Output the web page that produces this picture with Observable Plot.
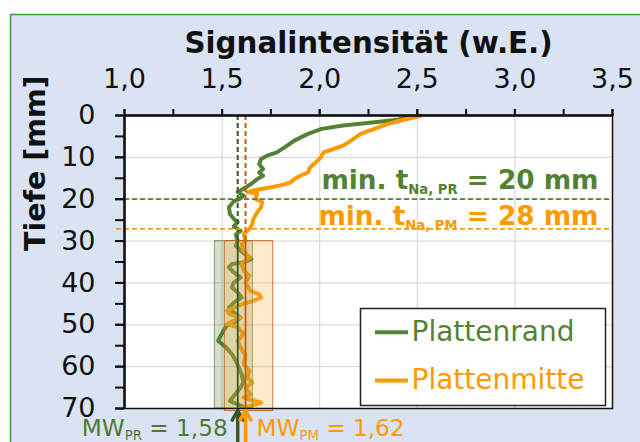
<!DOCTYPE html>
<html><head><meta charset="utf-8">
<script src="https://cdn.jsdelivr.net/npm/d3@7"></script>
<script src="https://cdn.jsdelivr.net/npm/@observablehq/plot@0.6"></script>
<style>html,body{margin:0;padding:0;background:#fff;} svg{display:block}</style>
</head><body><div id="chart"></div>
<script>
// ---- data ----
const depthPR = [0.3,1.0,1.6,2.4,3.2,4.4,6.0,7.6,8.8,9.6,10.4,11.6,12.8,13.6,14.4,15.2,16.3,17.5,18.3,19.1,19.9,20.5,21.9,23.5,24.7,25.5,26.5,27.5,28.5,29.9,31.1,32.3,34.3,35.1,35.5,36.3,37.5,38.7,39.9,41.1,42.3,43.5,44.7,45.9,47.1,48.3,49.5,50.2,52.0,53.8,55.4,57.0,58.6,60.2,61.8,63.8,65.0,67.0,68.2,69.0,69.6];
const valuePR = [2.46,2.40,2.28,2.12,2.01,1.94,1.87,1.82,1.78,1.73,1.70,1.69,1.71,1.69,1.71,1.68,1.65,1.61,1.58,1.61,1.59,1.56,1.535,1.54,1.56,1.58,1.56,1.595,1.57,1.58,1.57,1.595,1.65,1.61,1.55,1.535,1.56,1.595,1.56,1.55,1.58,1.60,1.56,1.535,1.56,1.595,1.56,1.525,1.50,1.48,1.52,1.55,1.57,1.585,1.60,1.61,1.595,1.56,1.54,1.58,1.61];
const depthPM = [0,0.6,1.2,2.0,3.2,4.4,6.0,7.2,8.0,8.8,10.0,11.2,12.4,13.6,14.4,15.2,16.0,16.7,17.3,17.9,18.3,18.7,19.9,20.7,21.9,23.1,24.7,25.9,27.1,28.3,29.9,30.7,32.3,33.9,35.5,37.1,38.3,39.9,41.9,42.7,43.5,43.9,44.7,45.5,46.7,47.5,48.3,49.0,49.8,50.6,52.2,53.8,55.4,57.4,59.4,61.0,62.6,63.8,65.0,66.6,67.4,68.2,68.6,69.4,69.8];
const valuePM = [2.52,2.47,2.415,2.35,2.28,2.21,2.16,2.12,2.07,2.02,2.005,1.98,1.95,1.94,1.90,1.87,1.85,1.80,1.73,1.66,1.63,1.68,1.67,1.705,1.70,1.68,1.66,1.655,1.64,1.61,1.62,1.60,1.61,1.64,1.60,1.61,1.64,1.62,1.645,1.69,1.70,1.68,1.63,1.58,1.525,1.54,1.595,1.56,1.525,1.58,1.61,1.58,1.595,1.62,1.61,1.64,1.63,1.655,1.62,1.645,1.61,1.67,1.70,1.645,1.61];
const seriesNames = ["Plattenrand", "Plattenmitte"];
const meanValues = [1.58, 1.62];            // MW_PR, MW_PM
const meanLabels = ["MW_{PR} = 1,58", "MW_{PM} = 1,62"];
const bandLow = [1.463, 1.514];
const bandHigh = [1.658, 1.762];
const bandDepth = [30, 70];
const minDepthLines = [20, 27.1];
const minDepthLabels = ["min. t_{Na, PR} = 20 mm", "min. t_{Na, PM} = 28 mm"];
const xTicks = [1.0, 1.5, 2.0, 2.5, 3.0, 3.5];
const xMinorTicks = [1.0,1.25,1.5,1.75,2.0,2.25,2.5,2.75,3.0,3.25,3.5];
const yTicks = [0,10,20,30,40,50,60,70];
const yMinorTicks = [0,5,10,15,20,25,30,35,40,45,50,55,60,65,70];
const xTitle = "Signalintensität (w.E.)";
const yTitle = "Tiefe [mm]";

// ---- styles / layout ----
const GREEN = "#548235", DKGREEN = "#375623", ORANGE = "#ff9900", RUST = "#c55a11";
const W = 640, H = 442, mL = 124, mT = 115, mR = 28, mB = 34;
const xDomain = [1, 3.5], yDomain = [0, 70];
const px2x = p => xDomain[0] + (p - mL) / (W - mL - mR) * (xDomain[1] - xDomain[0]);
const px2y = p => yDomain[0] + (p - mT) / (H - mT - mB) * (yDomain[1] - yDomain[0]);
const fmt = d => d3.format(".1f")(d).replace(".", ",");

const pr = depthPR.map((d, i) => ({depth: d, value: valuePR[i]}));
const pm = depthPM.map((d, i) => ({depth: d, value: valuePM[i]}));
const bands = [0, 1].map(i => ({x1: bandLow[i], x2: bandHigh[i], y1: bandDepth[0], y2: bandDepth[1] + (i ? 0.6 : 0)}));

const chart = Plot.plot({
  width: W, height: H,
  marginLeft: mL, marginTop: mT, marginRight: mR, marginBottom: mB,
  style: {fontFamily: "DejaVu Sans", background: "white", overflow: "visible"},
  x: {domain: xDomain},
  y: {domain: yDomain, reverse: true},
  marks: [
    // outer chart area
    Plot.frame({fill: "#dae3f3", stroke: "#3a9d3a", strokeWidth: 1.5, insetLeft: -114, insetTop: -101, insetRight: -60, insetBottom: -60}),
    Plot.frame({fill: "white"}),
    // grid
    Plot.ruleX(xTicks.slice(1, -1), {stroke: "#d9d9d9", strokeWidth: 1.2}),
    Plot.ruleY(yTicks.slice(1, -1), {stroke: "#d9d9d9", strokeWidth: 1.2}),
    // curves
    Plot.line(pr, {x: "value", y: "depth", stroke: GREEN, strokeWidth: 4, strokeLinejoin: "round"}),
    Plot.line(pm, {x: "value", y: "depth", stroke: ORANGE, strokeWidth: 4, strokeLinejoin: "round"}),
    // bands
    Plot.rect([bands[0]], {x1: "x1", x2: "x2", y1: "y1", y2: "y2", fill: GREEN, fillOpacity: 0.25, stroke: GREEN, strokeWidth: 1, strokeOpacity: 0.7}),
    Plot.rect([bands[1]], {x1: "x1", x2: "x2", y1: "y1", y2: "y2", fill: "#ffb347", fillOpacity: 0.28, stroke: RUST, strokeWidth: 1, strokeOpacity: 0.8}),
    // mean lines
    Plot.ruleX([meanValues[0]], {y1: 0, y2: bandDepth[0], stroke: DKGREEN, strokeWidth: 2, strokeDasharray: "5,3"}),
    Plot.ruleX([meanValues[1]], {y1: 0, y2: bandDepth[0], stroke: RUST, strokeWidth: 2, strokeDasharray: "5,3"}),
    Plot.ruleX([meanValues[0]], {y1: bandDepth[0], y2: bandDepth[1], stroke: DKGREEN, strokeWidth: 1.8}),
    Plot.ruleX([meanValues[1]], {y1: bandDepth[0], y2: bandDepth[1], stroke: RUST, strokeWidth: 1.8}),
    // min depth lines
    Plot.ruleY([minDepthLines[0]], {stroke: GREEN, strokeWidth: 1.8, strokeDasharray: "5,3", insetLeft: -8}),
    Plot.ruleY([minDepthLines[1]], {stroke: ORANGE, strokeWidth: 1.8, strokeDasharray: "5,3", insetLeft: -8}),
    Plot.text([minDepthLabels[0]], {x: xDomain[1], y: minDepthLines[0], text: d => d, dx: -14, dy: -10, textAnchor: "end", lineAnchor: "bottom", fill: GREEN, fontWeight: "bold", fontSize: 26.3}),
    Plot.text([minDepthLabels[1]], {x: xDomain[1], y: minDepthLines[1], text: d => d, dx: -14, dy: -4, textAnchor: "end", lineAnchor: "bottom", fill: ORANGE, fontWeight: "bold", fontSize: 26.3}),
    // legend
    Plot.frame({fill: "white", stroke: "#222", strokeWidth: 1.5, insetLeft: 360 - mL, insetRight: W - mR - 605, insetTop: 308 - mT, insetBottom: H - mB - 405}),
    Plot.ruleY([px2y(331.7)], {stroke: GREEN, strokeWidth: 4, insetLeft: 375 - mL, insetRight: W - mR - 408}),
    Plot.ruleY([px2y(380)], {stroke: ORANGE, strokeWidth: 4, insetLeft: 375 - mL, insetRight: W - mR - 408}),
    Plot.text([seriesNames[0]], {x: px2x(411), y: px2y(332), text: d => d, textAnchor: "start", lineAnchor: "middle", fill: GREEN, fontSize: 28}),
    Plot.text([seriesNames[1]], {x: px2x(411), y: px2y(380), text: d => d, textAnchor: "start", lineAnchor: "middle", fill: ORANGE, fontSize: 28}),
    // frame & axes lines
    Plot.frame({stroke: "#111", strokeWidth: 1.5}),
    Plot.ruleX([xDomain[0]], {stroke: "#111", strokeWidth: 2.5}),
    Plot.ruleY([yDomain[0]], {stroke: "#111", strokeWidth: 2.5}),
    Plot.axisX({anchor: "top", ticks: xMinorTicks, tickFormat: null, text: null, tickSize: 7, strokeWidth: 2, stroke: "#111", label: null}),
    Plot.axisX({anchor: "top", ticks: xTicks, tickFormat: fmt, tickSize: 7, tickPadding: 21, strokeWidth: 2, stroke: "#111", fontSize: 27, fill: "#111", label: null}),
    Plot.axisY({anchor: "left", ticks: yMinorTicks, text: null, tickSize: 9, strokeWidth: 2, stroke: "#111", label: null}),
    Plot.axisY({anchor: "left", ticks: yTicks, tickFormat: d => String(d), tickSize: 9, tickPadding: 20, strokeWidth: 2, stroke: "#111", fontSize: 27, fill: "#111", label: null}),
    // titles
    Plot.text([xTitle], {frameAnchor: "top", text: d => d, dy: -63, lineAnchor: "bottom", fontWeight: "bold", fontSize: 29.3, fill: "#111"}),
    Plot.text([yTitle], {frameAnchor: "left", text: d => d, dx: -89, dy: -11, rotate: -90, lineAnchor: "middle", fontWeight: "bold", fontSize: 28.5, fill: "#111"}),
    // mean arrows & labels
    Plot.arrow([0, 1], {x1: i => meanValues[i], x2: i => meanValues[i], y1: px2y(443), y2: px2y(410), stroke: i => i ? ORANGE : DKGREEN, strokeWidth: 3.5, headLength: 9}),
    Plot.text([meanLabels[0]], {x: meanValues[0], y: yDomain[1], text: d => d, dx: -10, dy: 27, textAnchor: "end", lineAnchor: "bottom", fill: "#4e7a30", fontSize: 23.2}),
    Plot.text([meanLabels[1]], {x: meanValues[1], y: yDomain[1], text: d => d, dx: 11, dy: 27, textAnchor: "start", lineAnchor: "bottom", fill: ORANGE, fontSize: 23.2})
  ]
});

// subscripts: "_{...}" rendered as real tspans
chart.querySelectorAll("text").forEach(t => {
  const s = t.textContent;
  if (!s.includes("_{")) return;
  const fs = parseFloat(t.getAttribute("font-size")) || parseFloat(getComputedStyle(t).fontSize) || 20;
  t.textContent = "";
  const re = /_\{([^}]*)\}/g;
  let last = 0, m;
  const ns = "http://www.w3.org/2000/svg";
  while ((m = re.exec(s))) {
    if (m.index > last) { const a = document.createElementNS(ns, "tspan"); a.textContent = s.slice(last, m.index); t.appendChild(a); }
    const b = document.createElementNS(ns, "tspan");
    b.textContent = m[1]; b.setAttribute("font-size", fs * 0.66); b.setAttribute("dy", fs * 0.24);
    t.appendChild(b);
    last = re.lastIndex;
    const c = document.createElementNS(ns, "tspan");
    c.textContent = s.slice(last).split("_{")[0]; c.setAttribute("dy", -fs * 0.24);
    t.appendChild(c);
    last += c.textContent.length;
  }
});
document.getElementById("chart").appendChild(chart);
</script>
</body></html>
